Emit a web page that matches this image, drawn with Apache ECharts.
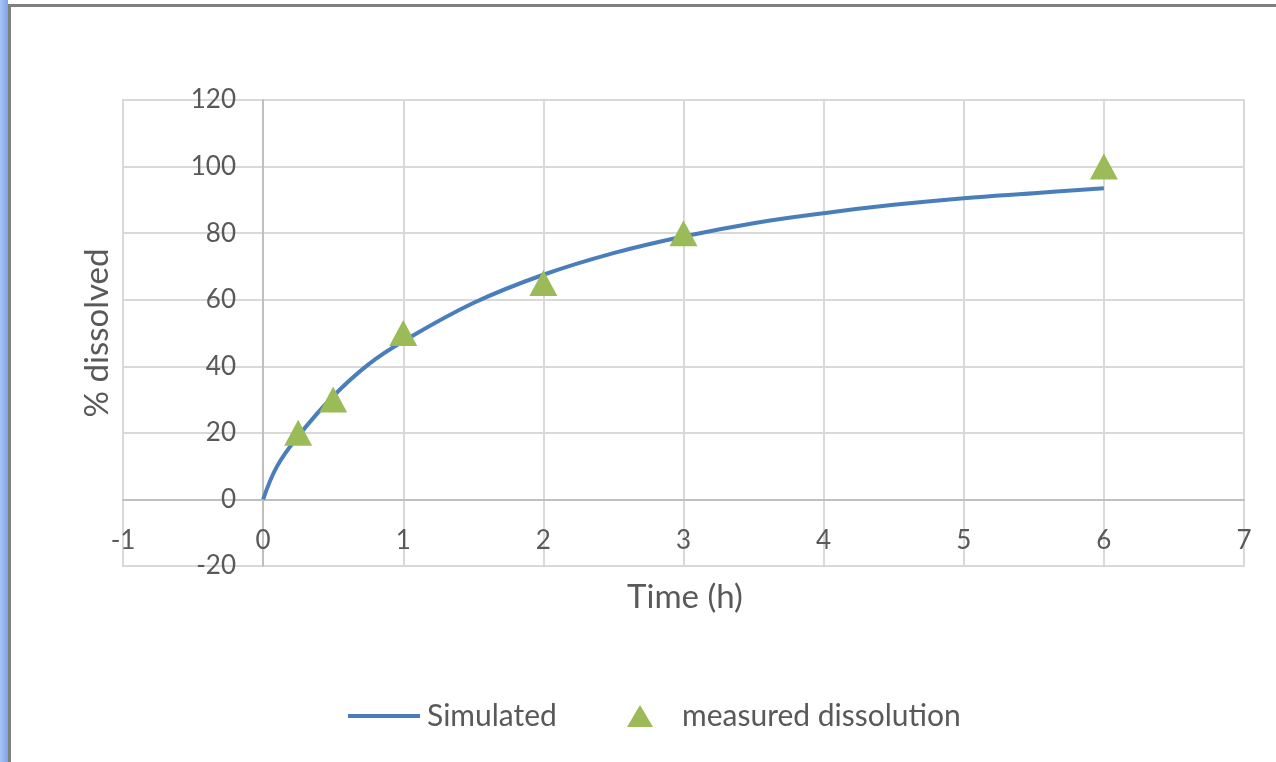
<!DOCTYPE html>
<html>
<head>
<meta charset="utf-8">
<script src="https://cdn.jsdelivr.net/npm/echarts@6/dist/echarts.min.js"></script>
<style>
  html, body { margin: 0; padding: 0; background: #ffffff; }
  #chart { width: 1276px; height: 762px; }
</style>
</head>
<body>
<div id="chart"></div>
<script>
// Simulated dissolution profile (time in h, % dissolved)
const simTime = [0, 0.1, 0.25, 0.5, 0.75, 1, 1.5, 2, 2.5, 3, 3.5, 4, 4.5, 5, 5.5, 6];
const simValue = [0, 10, 19, 31, 40.5, 47.5, 59, 67.5, 74, 79, 83, 86, 88.5, 90.5, 92, 93.5];

// Measured dissolution points
const measTime = [0.25, 0.5, 1, 2, 3, 6];
const measValue = [20, 30, 50, 65, 80, 100];

// Axis ranges
const xRange = [-1, 7];
const yRange = [-20, 120];

const FONT = 'Lato, "Open Sans", sans-serif';
const TEXT = '#595959';
const GRID = '#d9d9d9';
const AXIS = '#bfbfbf';
const BLUE = '#4a7ebb';
const GREEN = '#9bbb59';

const chart = echarts.init(document.getElementById('chart'));

chart.setOption({
  backgroundColor: '#ffffff',
  animation: false,
  textStyle: { fontFamily: FONT, color: TEXT },
  graphic: [
    // left edge strip and frame
    {
      type: 'rect', shape: { x: 0, y: 0, width: 8, height: 762 }, z: 10,
      style: { fill: new echarts.graphic.LinearGradient(0, 0, 1, 0, [
        { offset: 0, color: '#a9c4f5' }, { offset: 1, color: '#7fa3ea' }
      ]) }
    },
    { type: 'rect', shape: { x: 8, y: 4, width: 3, height: 758 }, style: { fill: '#808080' }, z: 10 },
    { type: 'rect', shape: { x: 8, y: 4, width: 1268, height: 3 }, style: { fill: '#808080' }, z: 10 },
    // axis titles
    {
      type: 'text', x: 685, y: 597,
      style: { text: 'Time (h)', fontFamily: FONT, fontSize: 33, fill: TEXT, align: 'center', verticalAlign: 'middle' }
    },
    {
      type: 'text', x: 97, y: 333, rotation: Math.PI / 2,
      style: { text: '% dissolved', fontFamily: FONT, fontSize: 33, fill: TEXT, align: 'center', verticalAlign: 'middle' }
    }
  ],
  legend: [
    {
      left: 343, top: 696,
      itemWidth: 72, itemHeight: 22,
      textStyle: { fontFamily: FONT, fontSize: 30, color: TEXT, padding: [0, 0, 0, 2] },
      data: [{ name: 'Simulated', icon: 'path://M0,0 L72,0 L72,4 L0,4 Z' }]
    },
    {
      left: 622, top: 696,
      itemWidth: 26, itemHeight: 22,
      textStyle: { fontFamily: FONT, fontSize: 30, color: TEXT, padding: [0, 0, 0, 24] },
      data: [{ name: 'measured dissolution', icon: 'triangle' }]
    }
  ],
  grid: {
    left: 123, right: 32, top: 100, bottom: 196,
    show: true, borderColor: GRID, borderWidth: 2
  },
  xAxis: {
    type: 'value',
    min: xRange[0], max: xRange[1], interval: 1,
    axisLine: { onZero: true, lineStyle: { color: AXIS, width: 2 } },
    axisTick: { show: false },
    splitLine: { show: true, lineStyle: { color: GRID, width: 2 } },
    axisLabel: { fontFamily: FONT, fontSize: 26, color: TEXT, margin: -38 }
  },
  yAxis: {
    type: 'value',
    min: yRange[0], max: yRange[1], interval: 20,
    axisLine: { show: true, onZero: true, lineStyle: { color: AXIS, width: 2 } },
    axisTick: { show: false },
    splitLine: { show: true, lineStyle: { color: GRID, width: 2 } },
    axisLabel: { fontFamily: FONT, fontSize: 26, color: TEXT, margin: -113 }
  },
  series: [
    {
      name: 'Simulated',
      type: 'line',
      smooth: 0.4,
      showSymbol: false,
      symbol: 'none',
      itemStyle: { color: BLUE },
      lineStyle: { color: BLUE, width: 4 },
      data: simTime.map((t, i) => [t, simValue[i]]),
      z: 3
    },
    {
      name: 'measured dissolution',
      type: 'scatter',
      symbol: 'triangle',
      symbolSize: [28, 26],
      itemStyle: { color: GREEN, opacity: 1 },
      data: measTime.map((t, i) => [t, measValue[i]]),
      z: 4
    }
  ]
});
</script>
</body>
</html>
